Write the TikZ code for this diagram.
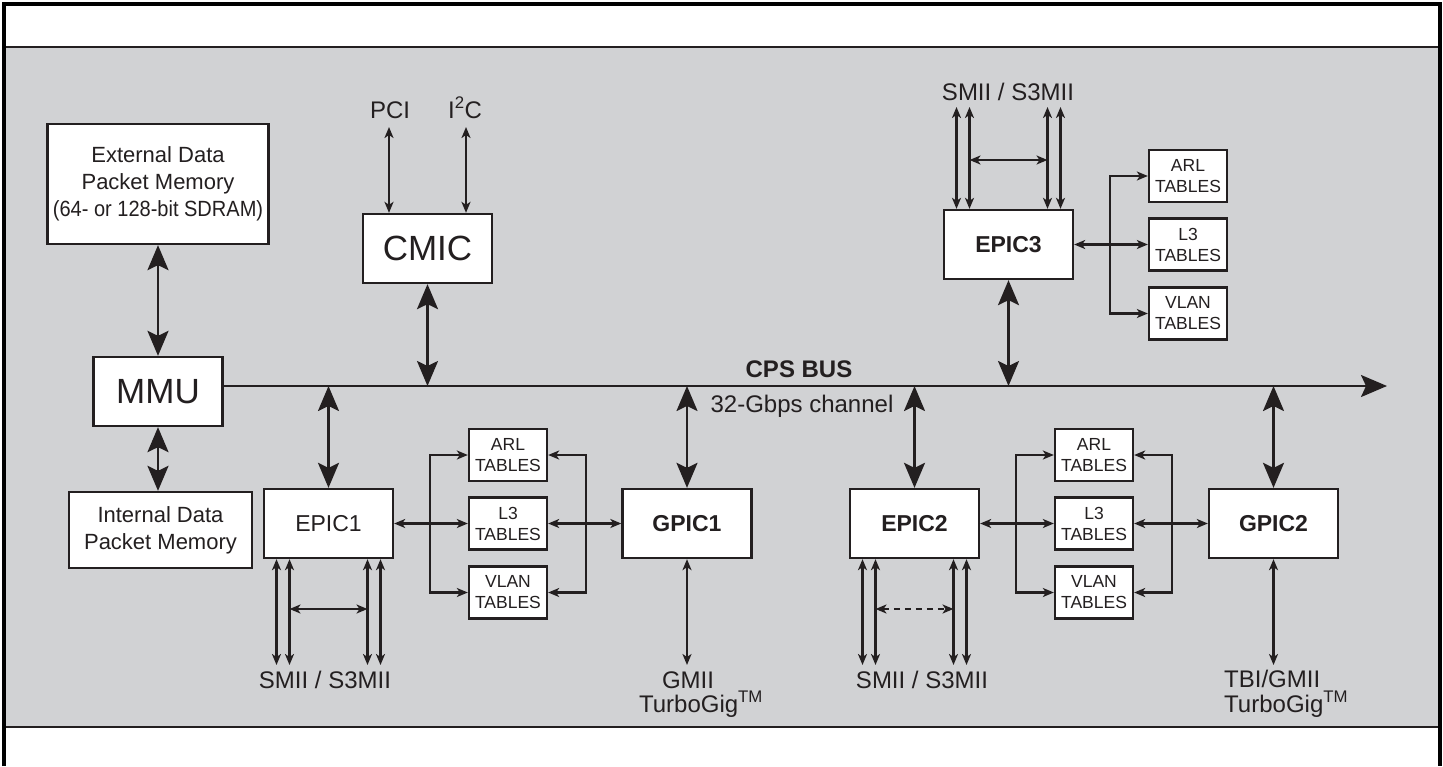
\documentclass[tikz,border=0pt]{standalone}
\usepackage{fontspec}
\setmainfont{Liberation Sans}
\usetikzlibrary{arrows.meta,calc}
\definecolor{ink}{HTML}{231F20}
\definecolor{panel}{HTML}{D1D2D4}
\begin{document}
\begin{tikzpicture}[x=1pt,y=-1pt,
  box/.style={draw=ink, fill=white, line width=2.3pt, inner sep=0pt, text=ink, align=center},
  bigbox/.style={box, minimum width=129pt, minimum height=69pt},
  tbl/.style={box, minimum width=78pt, minimum height=52pt, font=\fontsize{17.5}{21}\selectfont},
  lbl/.style={text=ink, inner sep=0pt, font=\fontsize{24}{24}\selectfont},
  bigtip/.tip={Stealth[length=25pt,width=21pt,inset=5pt]},
  smalltip/.tip={Stealth[length=11pt,width=9pt,inset=3pt]},
  big/.style={line width=2.3pt, draw=ink, bigtip-bigtip},
  thinline/.style={line width=2.1pt, draw=ink},
  sarrow/.style={thinline, smalltip-smalltip},
]
% canvas
\fill[white] (0,0) rectangle (1443,766);
\useasboundingbox (0,0) rectangle (1443,766);
\fill[panel] (4,47) rectangle (1440,727);
\draw[ink, line width=2.5pt] (4,47) -- (1440,47);
\draw[ink, line width=2.5pt] (4,727) -- (1440,727);
\draw[black, line width=4pt] (4,766) -- (4,4) -- (1440,4) -- (1440,766);

\coordinate (busy) at (0,386);
\coordinate (busend) at (1387,386);
\coordinate (bot) at (0,665);
\coordinate (top3) at (0,107);
\coordinate (hy) at (0,609);
\coordinate (hy3) at (0,160);

% left column
\node[box, minimum width=221pt, minimum height=120pt, font=\fontsize{22}{27}\selectfont] (ext) at (158,184)
  {External Data\\Packet Memory\\\scalebox{0.91}[1]{(64- or 128-bit SDRAM)}};
\node[bigbox, font=\fontsize{35}{35}\selectfont] (mmu) at (158,391.5) {MMU};
\node[box, minimum width=183pt, minimum height=76pt, font=\fontsize{22}{27}\selectfont] (intm) at (160.5,530)
  {Internal Data\\Packet Memory};

% CMIC
\node[bigbox, font=\fontsize{35}{35}\selectfont] (cmic) at (427.5,248.5) {CMIC};
\node[lbl, anchor=base] (pcil) at (390,118) {PCI};
\node[lbl, anchor=base] (i2cl) at (465,118) {I\textsuperscript{2}C};
\coordinate (pcit) at (389,127);
\coordinate (i2ct) at (466,127);

% EPIC / GPIC blocks
\node[bigbox, font=\fontsize{23}{23}\selectfont] (epic1) at (328.5,523.5) {EPIC1};
\node[bigbox, font=\fontsize{23}{23}\selectfont\bfseries] (gpic1) at (687,523.5) {GPIC1};
\node[bigbox, font=\fontsize{23}{23}\selectfont\bfseries] (epic2) at (914.5,523.5) {EPIC2};
\node[bigbox, font=\fontsize{23}{23}\selectfont\bfseries] (gpic2) at (1273.5,523.5) {GPIC2};
\node[bigbox, font=\fontsize{23}{23}\selectfont\bfseries] (epic3) at (1008.5,244.5) {EPIC3};

% tables
\node[tbl] (arl1) at (508,455) {ARL\\TABLES};
\node[tbl] (l31) at (508,523.5) {L3\\TABLES};
\node[tbl] (vlan1) at (508,592.5) {VLAN\\TABLES};
\node[tbl] (arl2) at (1094,455) {ARL\\TABLES};
\node[tbl] (l32) at (1094,523.5) {L3\\TABLES};
\node[tbl] (vlan2) at (1094,592.5) {VLAN\\TABLES};
\node[tbl] (arl3) at (1188,176) {ARL\\TABLES};
\node[tbl] (l33) at (1188,244.5) {L3\\TABLES};
\node[tbl] (vlan3) at (1188,313.5) {VLAN\\TABLES};

% labels
\node[lbl, anchor=base] (smii1) at (325,688) {SMII / S3MII};
\node[lbl, anchor=base] (smii2) at (922,688) {SMII / S3MII};
\node[lbl, anchor=base] (smii3) at (1008,100.7) {SMII / S3MII};
\node[lbl, anchor=base, font=\fontsize{24}{24}\selectfont\bfseries] (cps) at (799,377) {CPS BUS};
\node[lbl, anchor=base] (gbps) at (802,412) {32-Gbps channel};
\node[lbl, anchor=base] (gmii) at (688,688) {GMII};
\node[lbl, anchor=base] (tg1) at (701,712) {TurboGig\textsuperscript{TM}};
\node[lbl, anchor=base west] (tbi) at (1224,687) {TBI/GMII};
\node[lbl, anchor=base west] (tg2) at (1224,712) {TurboGig\textsuperscript{TM}};

% bus
\draw[thinline, -{Stealth[length=26pt,width=22pt,inset=5pt]}] (mmu.east |- busy) -- (busend);

% big bus connectors
\draw[big] (ext.south) -- (mmu.north);
\draw[big] (mmu.south) -- (mmu.south |- intm.north);
\draw[big] (cmic.south) -- (cmic.south |- busy);
\draw[big] (epic3.south) -- (epic3.south |- busy);
\draw[big] (epic1.north |- busy) -- (epic1.north);
\draw[big] (gpic1.north |- busy) -- (gpic1.north);
\draw[big] (epic2.north |- busy) -- (epic2.north);
\draw[big] (gpic2.north |- busy) -- (gpic2.north);

% CMIC ports
\draw[sarrow] (pcit) -- (pcit |- cmic.north);
\draw[sarrow] (i2ct) -- (i2ct |- cmic.north);

% GPIC ports
\draw[sarrow] (gpic1.south) -- (gpic1.south |- bot);
\draw[sarrow] (gpic2.south) -- (gpic2.south |- bot);

% EPIC SMII ports
\foreach \o [count=\i] in {-52,-39,39,52} {
  \coordinate (e1p\i) at ($(epic1.south)+(\o,0)$);
  \coordinate (e2p\i) at ($(epic2.south)+(\o,0)$);
  \coordinate (e3p\i) at ($(epic3.north)+(\o,0)$);
}
\foreach \i in {1,2,3,4} {
  \draw[sarrow] (e1p\i) -- (e1p\i |- bot);
  \draw[sarrow] (e2p\i) -- (e2p\i |- bot);
  \draw[sarrow] (e3p\i |- top3) -- (e3p\i);
}
\draw[sarrow] (e1p2 |- hy) -- (e1p3 |- hy);
\draw[sarrow, dash pattern=on 6pt off 5pt] (e2p2 |- hy) -- (e2p3 |- hy);
\draw[sarrow] (e3p2 |- hy3) -- (e3p3 |- hy3);

% table connectors group 1
\draw[sarrow] (epic1.east) -- (l31.west);
\draw[sarrow] (arl1.west) -- ++(-38,0) |- (vlan1.west);
\draw[sarrow] (arl1.east) -- ++(38,0) |- (vlan1.east);
\draw[sarrow] (l31.east) -- (gpic1.west);
% group 2
\draw[sarrow] (epic2.east) -- (l32.west);
\draw[sarrow] (arl2.west) -- ++(-38,0) |- (vlan2.west);
\draw[sarrow] (arl2.east) -- ++(38,0) |- (vlan2.east);
\draw[sarrow] (l32.east) -- (gpic2.west);
% group 3
\draw[sarrow] (epic3.east) -- (l33.west);
\draw[sarrow] (arl3.west) -- ++(-38,0) |- (vlan3.west);
\end{tikzpicture}
\end{document}
